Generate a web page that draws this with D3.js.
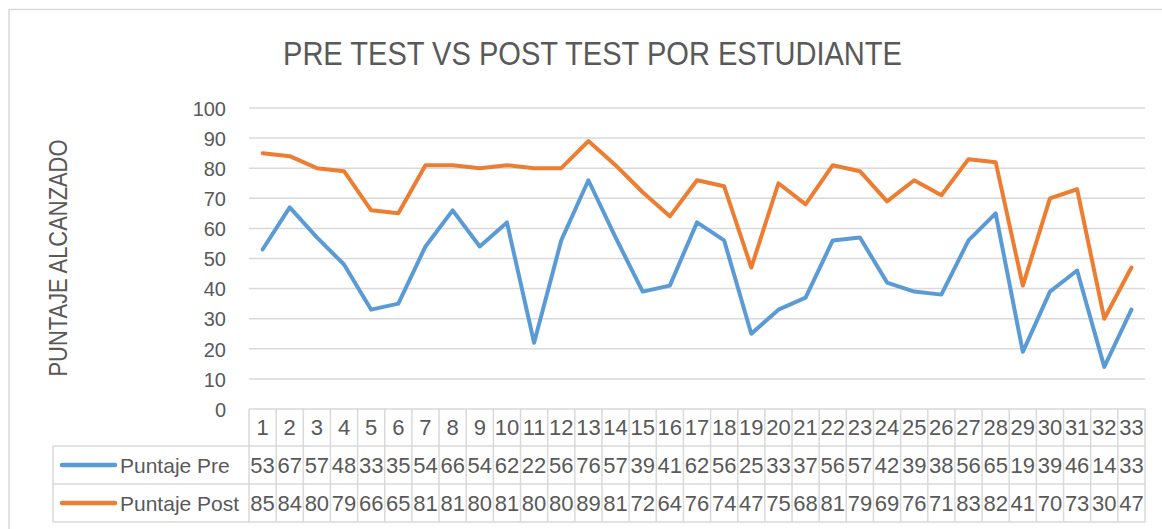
<!DOCTYPE html>
<html>
<head>
<meta charset="utf-8">
<script src="https://cdn.jsdelivr.net/npm/d3@7"></script>
<style>
  html, body { margin: 0; padding: 0; background: #fff; }
  svg { display: block; }
  text { font-family: "Liberation Sans", Arial, sans-serif; fill: #595959; }
</style>
</head>
<body>
<svg id="chart" width="1162" height="529"></svg>
<script>
const categories = ["1","2","3","4","5","6","7","8","9","10","11","12","13","14","15","16","17","18","19","20","21","22","23","24","25","26","27","28","29","30","31","32","33"];
const puntajePre  = [53,67,57,48,33,35,54,66,54,62,22,56,76,57,39,41,62,56,25,33,37,56,57,42,39,38,56,65,19,39,46,14,33];
const puntajePost = [85,84,80,79,66,65,81,81,80,81,80,80,89,81,72,64,76,74,47,75,68,81,79,69,76,71,83,82,41,70,73,30,47];
const seriesNames = ["Puntaje Pre", "Puntaje Post"];
const yTicks = [0,10,20,30,40,50,60,70,80,90,100];
const titleText = "PRE TEST VS POST TEST POR ESTUDIANTE";
const yAxisTitle = "PUNTAJE ALCANZADO";

const colors = ["#5B9BD5", "#ED7D31"];
const gridColor = "#D9D9D9";

const svg = d3.select("#chart");

// chart frame (clipped on right/bottom like reference)
svg.append("rect")
  .attr("x", 9).attr("y", 9.5)
  .attr("width", 1200).attr("height", 560)
  .attr("fill", "#fff")
  .attr("stroke", gridColor).attr("stroke-width", 1.5);

const plotLeft = 249, plotRight = 1145;
const x = d3.scaleBand().domain(categories).range([plotLeft, plotRight]).paddingInner(0).paddingOuter(0);
const y = d3.scaleLinear().domain([0, 100]).range([409, 108]);

// title
svg.append("text")
  .attr("x", 283).attr("y", 65)
  .attr("font-size", 33)
  .attr("textLength", 619).attr("lengthAdjust", "spacingAndGlyphs")
  .text(titleText);

// y axis title
svg.append("text")
  .attr("transform", "translate(67,258) rotate(-90)")
  .attr("text-anchor", "middle")
  .attr("font-size", 25)
  .attr("textLength", 237).attr("lengthAdjust", "spacingAndGlyphs")
  .text(yAxisTitle);

// gridlines
svg.append("g").selectAll("line")
  .data(yTicks.filter(d => d > 0))
  .join("line")
  .attr("x1", plotLeft).attr("x2", plotRight)
  .attr("y1", d => y(d)).attr("y2", d => y(d))
  .attr("stroke", gridColor).attr("stroke-width", 1.5);

// y axis labels via d3 axis
const yAxis = d3.axisLeft(y).tickValues(yTicks).tickSize(0).tickPadding(0).tickFormat(d3.format("d"));
const gy = svg.append("g").attr("transform", "translate(226,0)").call(yAxis);
gy.select(".domain").remove();
gy.selectAll("text")
  .attr("font-size", 20)
  .attr("font-family", "Liberation Sans, Arial, sans-serif")
  .attr("fill", "#595959")
  .attr("dy", "0.36em");

// lines
const line = d3.line()
  .x((d, i) => x(categories[i]) + x.bandwidth() / 2)
  .y(d => y(d));

[puntajePre, puntajePost].forEach((vals, k) => {
  svg.append("path")
    .datum(vals)
    .attr("d", line)
    .attr("fill", "none")
    .attr("stroke", colors[k])
    .attr("stroke-width", 4)
    .attr("stroke-linejoin", "round")
    .attr("stroke-linecap", "round");
});

// data table
const rowTops = [409, 446, 484, 522];
const legendLeft = 53;
const tbl = svg.append("g");
const lineAttrs = sel => sel.attr("stroke", gridColor).attr("stroke-width", 1.5);

// horizontal lines
tbl.append("line").attr("x1", plotLeft).attr("x2", plotRight).attr("y1", rowTops[0]).attr("y2", rowTops[0]).call(lineAttrs);
[1,2,3].forEach(r => {
  tbl.append("line").attr("x1", legendLeft).attr("x2", plotRight).attr("y1", rowTops[r]).attr("y2", rowTops[r]).call(lineAttrs);
});
// vertical lines
const colEdges = categories.map(c => x(c)).concat([plotRight]);
tbl.selectAll("line.v").data(colEdges).join("line")
  .attr("class", "v")
  .attr("x1", d => d).attr("x2", d => d)
  .attr("y1", rowTops[0]).attr("y2", rowTops[3])
  .call(lineAttrs);
tbl.append("line").attr("x1", legendLeft).attr("x2", legendLeft).attr("y1", rowTops[1]).attr("y2", rowTops[3]).call(lineAttrs);

// header numbers
tbl.selectAll("text.h").data(categories).join("text")
  .attr("class", "h")
  .attr("x", d => x(d) + x.bandwidth() / 2)
  .attr("y", 435)
  .attr("text-anchor", "middle")
  .attr("font-size", 22)
  .text(d => d);

const rowBaselines = [473, 511];
[puntajePre, puntajePost].forEach((vals, k) => {
  tbl.selectAll("text.r" + k).data(vals).join("text")
    .attr("class", "r" + k)
    .attr("x", (d, i) => x(categories[i]) + x.bandwidth() / 2)
    .attr("y", rowBaselines[k])
    .attr("text-anchor", "middle")
    .attr("font-size", 22)
    .text(d => d);
  const cy = (rowTops[k + 1] + rowTops[k + 2]) / 2;
  tbl.append("line")
    .attr("x1", 62).attr("x2", 115)
    .attr("y1", cy).attr("y2", cy)
    .attr("stroke", colors[k]).attr("stroke-width", 4.5)
    .attr("stroke-linecap", "round");
  tbl.append("text")
    .attr("x", 120).attr("y", rowBaselines[k])
    .attr("font-size", 21)
    .text(seriesNames[k]);
});
</script>
</body>
</html>
